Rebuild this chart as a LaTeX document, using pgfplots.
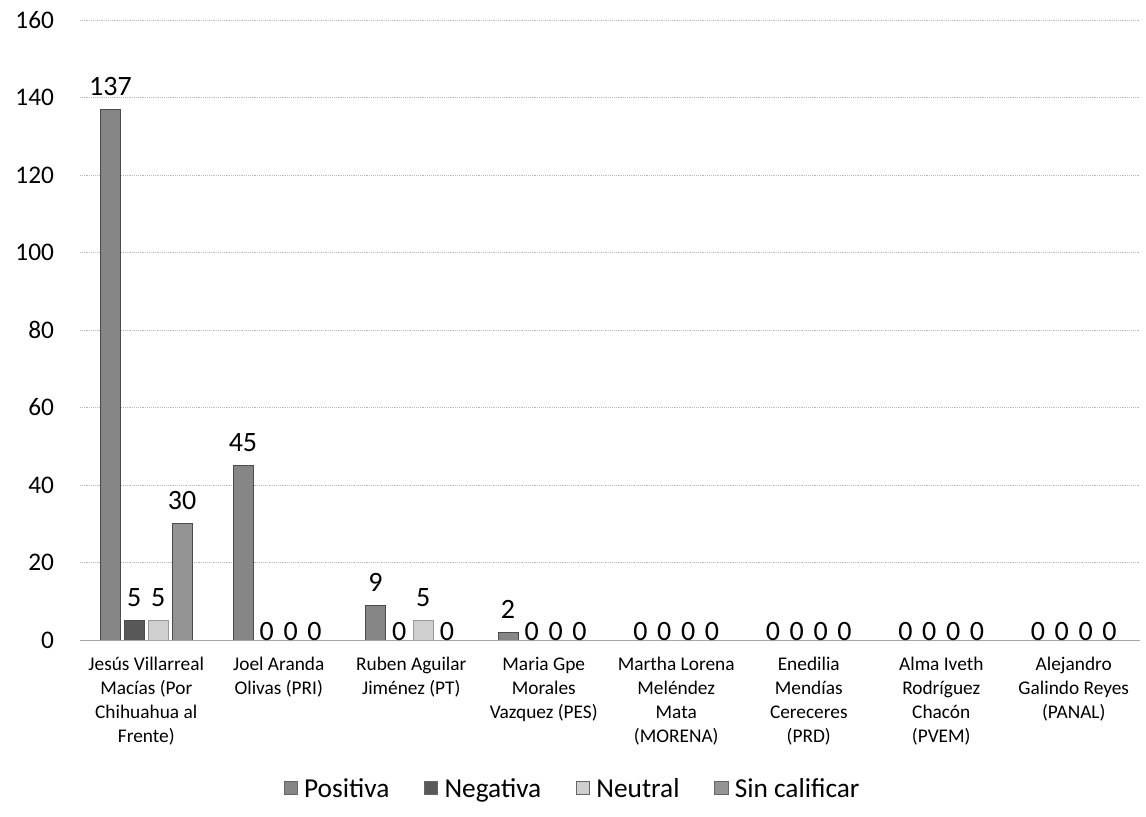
\documentclass[border=0pt]{standalone}
\usepackage{pgfplots}
\pgfplotsset{compat=1.18}
\usepackage{fontspec}
\setmainfont{Carlito}

\definecolor{cPos}{HTML}{868686}
\definecolor{cNeg}{HTML}{585858}
\definecolor{cNeu}{HTML}{CFCFCF}
\definecolor{cSin}{HTML}{939393}

\begin{document}
\begin{tikzpicture}
  \begin{axis}[
    width=795pt, height=465pt,
    scale only axis,
    ybar, bar width=0.15,
    xmin=-0.5, xmax=7.5,
    ymin=0, ymax=160,
    ytick={0,20,...,160},
    xtick={0,...,7},
    xticklabels={
      {Jesús Villarreal\\Macías (Por\\Chihuahua al\\Frente)},
      {Joel Aranda\\Olivas (PRI)},
      {Ruben Aguilar\\Jiménez (PT)},
      {Maria Gpe\\Morales\\Vazquez (PES)},
      {Martha Lorena\\Meléndez\\Mata\\(MORENA)},
      {Enedilia\\Mendías\\Cereceres\\(PRD)},
      {Alma Iveth\\Rodríguez\\Chacón\\(PVEM)},
      {Alejandro\\Galindo Reyes\\(PANAL)}},
    /pgf/number format/assume math mode=true,
    x tick label style={font=\fontsize{14.5}{18}\selectfont, align=center, anchor=north, yshift=-9pt},
    y tick label style={font=\fontsize{19}{22}\selectfont, xshift=-16pt},
    major tick length=0pt,
    axis line style={draw=none},
    ymajorgrids,
    grid style={gray!55, densely dotted, line width=0.6pt},
    clip=false,
    nodes near coords,
    visualization depends on={y \as \rawy},
    every node near coord/.append style={font=\fontsize{21}{24}\selectfont, text=black, inner sep=3pt,
      yshift={ifthenelse(\rawy>0.5,7,-3.5)}},
    legend style={at={(0.465,-0.215)}, anchor=north, draw=none, legend columns=-1,
      font=\fontsize{20.5}{24}\selectfont,
      /tikz/every even column/.append style={column sep=24pt}},
    legend image code/.code={\draw[#1, draw=black!60] (0pt,-4pt) rectangle (10pt,6pt); \path (13pt,0pt);},
  ]
  \addplot[fill=cPos, draw=black!70, bar shift=-0.27] coordinates {(0,137) (1,45) (2,9) (3,2) (4,0) (5,0) (6,0) (7,0)};
  \addplot[fill=cNeg, draw=black!70, bar shift=-0.09] coordinates {(0,5) (1,0) (2,0) (3,0) (4,0) (5,0) (6,0) (7,0)};
  \addplot[fill=cNeu, draw=black!40, bar shift=0.09] coordinates {(0,5) (1,0) (2,5) (3,0) (4,0) (5,0) (6,0) (7,0)};
  \addplot[fill=cSin, draw=black!70, bar shift=0.27] coordinates {(0,30) (1,0) (2,0) (3,0) (4,0) (5,0) (6,0) (7,0)};
  \legend{Positiva, Negativa, Neutral, Sin calificar}
  \draw[gray!70, line width=0.6pt] (rel axis cs:0,0) -- (rel axis cs:1,0);
  \path (rel axis cs:0,0) ++(-60pt,-132pt);
  \path (rel axis cs:1,1) ++(4.5pt,15pt);
  \end{axis}
\end{tikzpicture}
\end{document}
